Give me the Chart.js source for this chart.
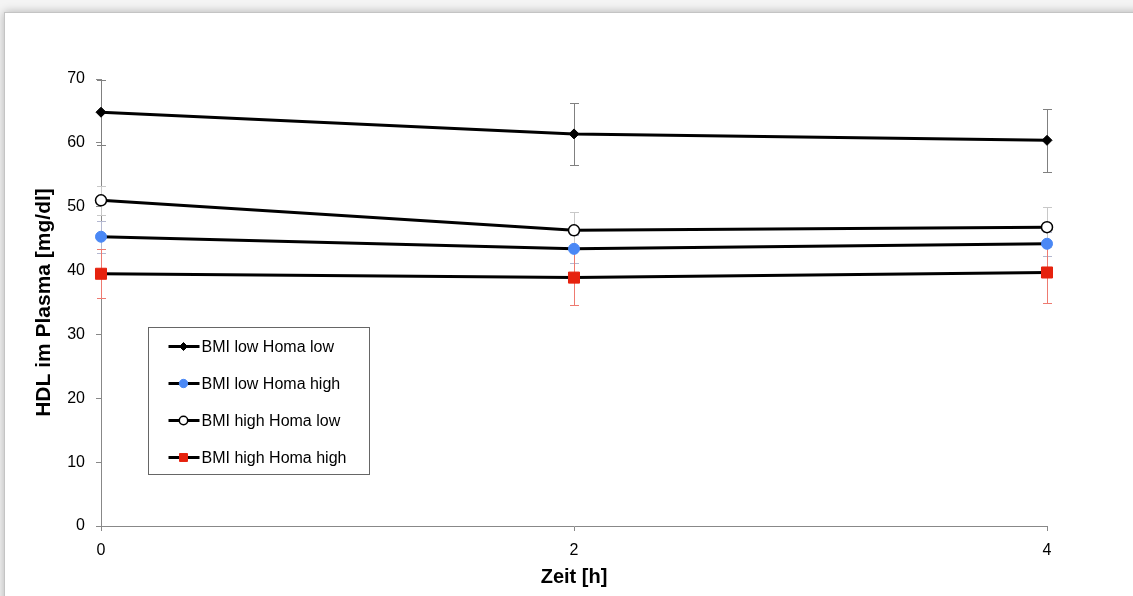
<!DOCTYPE html>
<html>
<head>
<meta charset="utf-8">
<script src="https://cdn.jsdelivr.net/npm/chart.js@4/dist/chart.umd.min.js"></script>
<style>
  html, body { margin: 0; padding: 0; background: #f4f4f4; overflow: hidden; }
  #panel {
    position: absolute; left: 4px; top: 12px; width: 1140px; height: 600px;
    background: #fff; border-top: 1px solid #c4c4c4; border-left: 1px solid #c4c4c4;
    box-shadow: 0 0 9px rgba(0, 0, 0, 0.28);
  }
  #hdl { position: absolute; left: 0; top: 0; }
</style>
</head>
<body>
<div id="panel"></div>
<canvas id="hdl" width="1133" height="596"></canvas>
<script>
// HDL im Plasma over time, four BMI/Homa groups with error bars.
const times = [0, 2, 4];
const seriesNames = ["BMI low Homa low", "BMI low Homa high", "BMI high Homa low", "BMI high Homa high"];
const lowLow = [64.8, 61.4, 60.4];
const lowLowErr = [5.1, 4.8, 4.9];
const lowHigh = [45.3, 43.4, 44.2];
const lowHighErr = [2.5, 2.2, 1.9];
const highLow = [51.0, 46.3, 46.8];
const highLowErr = [2.3, 2.8, 3.1];
const highHigh = [39.5, 38.9, 39.7];
const highHighErr = [3.8, 4.3, 4.7];
const yTicks = [0, 10, 20, 30, 40, 50, 60, 70];
const xTicks = [0, 2, 4];

const FONT = "'Liberation Sans', Arial, sans-serif";

function pts(values) {
  return values.map((v, i) => ({ x: times[i], y: v }));
}

function series(label, values, errs, marker, legendRadius, errColor) {
  return Object.assign(
    {
      label,
      data: pts(values),
      errors: errs,
      errColor,
      legendRadius,
      borderColor: "#000",
      borderWidth: 3,
      tension: 0,
      clip: false,
    },
    marker
  );
}

const datasets = [
  series(seriesNames[0], lowLow, lowLowErr,
    { pointStyle: "rectRot", pointRadius: 5, pointBackgroundColor: "#000", pointBorderColor: "#000", pointBorderWidth: 1 }, 4, "#808080"),
  series(seriesNames[1], lowHigh, lowHighErr,
    { pointStyle: "circle", pointRadius: 5.5, pointBackgroundColor: "#4a88f5", pointBorderColor: "#4a88f5", pointBorderWidth: 1 }, 4.2, "#b4b8d0"),
  series(seriesNames[2], highLow, highLowErr,
    { pointStyle: "circle", pointRadius: 5.5, pointBackgroundColor: "#fff", pointBorderColor: "#000", pointBorderWidth: 1.5 }, 4.2, "#c8c8c8"),
  series(seriesNames[3], highHigh, highHighErr,
    { pointStyle: "rect", pointRadius: 7.8, pointBackgroundColor: "#e6220e", pointBorderColor: "#e6220e", pointBorderWidth: 1 }, 5.6, "#ee7a70"),
];

// vertical error bars with small caps, drawn underneath the lines
const errorBars = {
  id: "errorBars",
  beforeDatasetsDraw(chart) {
    const { ctx, scales: { x, y } } = chart;
    ctx.save();
    ctx.lineWidth = 1;
    chart.data.datasets.forEach((ds) => {
      ctx.strokeStyle = ds.errColor;
      ds.data.forEach((p, i) => {
        const e = ds.errors[i];
        const px = Math.round(x.getPixelForValue(p.x)) + 0.5;
        const top = Math.round(y.getPixelForValue(p.y + e)) + 0.5;
        const bot = Math.round(y.getPixelForValue(p.y - e)) + 0.5;
        ctx.beginPath();
        ctx.moveTo(px, top); ctx.lineTo(px, bot);
        ctx.moveTo(px - 4.5, top); ctx.lineTo(px + 4.5, top);
        ctx.moveTo(px - 4.5, bot); ctx.lineTo(px + 4.5, bot);
        ctx.stroke();
      });
    });
    ctx.restore();
  },
};

// boxed legend inside the plot, lower left
const boxLegend = {
  id: "boxLegend",
  afterDraw(chart) {
    const { ctx, chartArea } = chart;
    const left = chartArea.left + 47.5;
    const top = chartArea.top + 248.5;
    ctx.save();
    ctx.strokeStyle = "#666";
    ctx.lineWidth = 1;
    ctx.strokeRect(left, top, 221, 147);
    ctx.font = "16px " + FONT;
    ctx.textBaseline = "middle";
    chart.data.datasets.forEach((ds, i) => {
      const cy = top + 19 + i * 37;
      ctx.strokeStyle = "#000";
      ctx.lineWidth = 3;
      ctx.beginPath();
      ctx.moveTo(left + 20, cy);
      ctx.lineTo(left + 51, cy);
      ctx.stroke();
      ctx.fillStyle = ds.pointBackgroundColor;
      ctx.strokeStyle = ds.pointBorderColor;
      ctx.lineWidth = ds.pointBorderWidth;
      Chart.helpers.drawPoint(ctx, {
        pointStyle: ds.pointStyle,
        radius: ds.legendRadius,
        borderWidth: ds.pointBorderWidth,
      }, left + 35, cy);
      ctx.fillStyle = "#000";
      ctx.fillText(ds.label, left + 53, cy + 1);
    });
    ctx.restore();
  },
};

new Chart(document.getElementById("hdl"), {
  type: "line",
  data: { datasets },
  plugins: [errorBars, boxLegend],
  options: {
    responsive: false,
    animation: false,
    layout: { padding: { top: 79, right: 86, left: 0, bottom: 0 } },
    plugins: { legend: { display: false }, tooltip: { enabled: false } },
    scales: {
      x: {
        type: "linear",
        min: 0,
        max: 4,
        afterBuildTicks: (s) => { s.ticks = xTicks.map((v) => ({ value: v })); },
        afterFit: (s) => { s.height = 70; },
        grid: { drawOnChartArea: false, tickLength: 5, tickColor: "#888" },
        border: { color: "#888", width: 1 },
        ticks: { color: "#000", padding: 10, font: { family: FONT, size: 16 } },
        title: {
          display: true, text: "Zeit [h]", color: "#000",
          font: { family: FONT, size: 20, weight: "bold" },
          padding: { top: 0, bottom: 7 },
        },
      },
      y: {
        min: 0,
        max: 70,
        afterBuildTicks: (s) => { s.ticks = yTicks.map((v) => ({ value: v })); },
        afterFit: (s) => { s.width = 101; },
        grid: { drawOnChartArea: false, tickLength: 5, tickColor: "#888" },
        border: { color: "#888", width: 1 },
        ticks: { color: "#000", padding: 11, font: { family: FONT, size: 16 } },
        title: {
          display: true, text: "HDL im Plasma [mg/dl]", color: "#000",
          font: { family: FONT, size: 21, weight: "bold" },
          padding: { top: 32, bottom: 0 },
        },
      },
    },
  },
});
</script>
</body>
</html>
